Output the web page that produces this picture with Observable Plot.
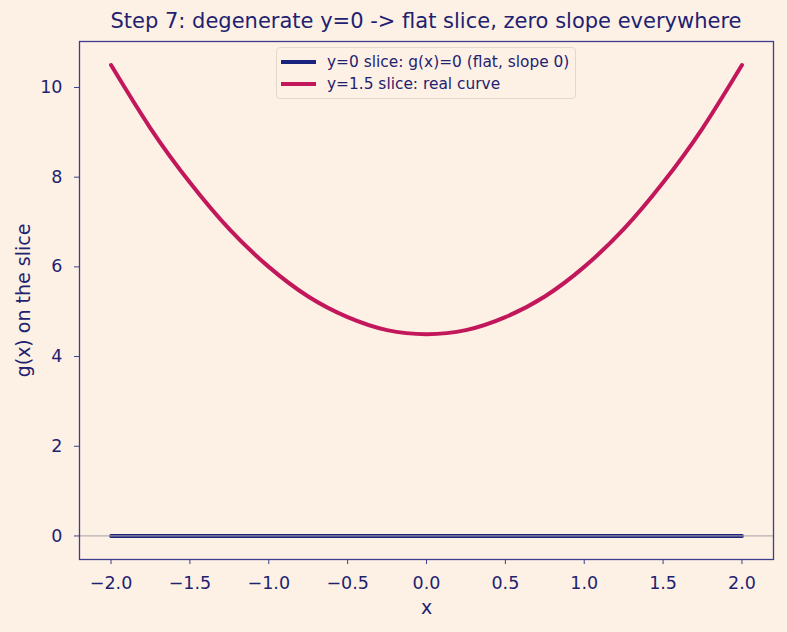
<!DOCTYPE html>
<html>
<head>
<meta charset="utf-8">
<script src="https://cdn.jsdelivr.net/npm/d3@7"></script>
<script src="https://cdn.jsdelivr.net/npm/@observablehq/plot@0.6"></script>
<style>
  html, body { margin: 0; padding: 0; background: #fdf1e6; }
  body { width: 787px; height: 632px; position: relative; font-family: "DejaVu Sans", sans-serif; overflow: hidden; }
  #title { position: absolute; left: 0; top: 0; width: 787px; height: 30px; }
  #title span { position: absolute; left: 426px; top: 8px; transform: translateX(-50%); white-space: nowrap; font-size: 21px; line-height: 26px; color: #1f2270; }
  #chart { position: absolute; left: 0; top: 30px; }
  #legend { position: absolute; left: 276px; top: 47px; width: 300px; height: 52px; border: 1px solid #e4d8cd; border-radius: 4px; background: rgba(253,241,230,0.8); box-sizing: border-box; }
  .row { position: absolute; left: 4px; height: 20px; font-size: 15.4px; line-height: 20px; color: #1f2270; white-space: nowrap; }
  .row i { position: absolute; left: 0; top: 8px; width: 35px; height: 4px; }
  .row span { position: absolute; left: 46px; top: 0; }
</style>
</head>
<body>
<div id="title"><span>Step 7: degenerate y=0 -&gt; flat slice, zero slope everywhere</span></div>
<div id="chart"></div>
<div id="legend">
  <div class="row" style="top:4px"><i style="background:#1a237e"></i><span>y=0 slice: g(x)=0 (flat, slope 0)</span></div>
  <div class="row" style="top:26px"><i style="background:#c2185b"></i><span>y=1.5 slice: real curve</span></div>
</div>
<script>
// x positions
const xs = [-2.0, -1.75, -1.5, -1.25, -1.0, -0.75, -0.5, -0.25, 0.0, 0.25, 0.5, 0.75, 1.0, 1.25, 1.5, 1.75, 2.0];
// y=1.5 slice: real curve
const curveVals = [10.5, 9.09, 7.88, 6.84, 6.0, 5.34, 4.88, 4.59, 4.5, 4.59, 4.88, 5.34, 6.0, 6.84, 7.88, 9.09, 10.5];
// y=0 slice: flat
const flatXs = [-2.0, 2.0];
const flatVals = [0, 0];
const xTicks = [-2.0, -1.5, -1.0, -0.5, 0.0, 0.5, 1.0, 1.5, 2.0];
const yTicks = [0, 2, 4, 6, 8, 10];

const curveData = xs.map((x, i) => ({x, y: curveVals[i]}));
const flatData = flatXs.map((x, i) => ({x, y: flatVals[i]}));

const ink = "#1f2270";
const frameColor = "#3d3d8f";

const chart = Plot.plot({
  width: 787,
  height: 602,
  marginLeft: 79,
  marginRight: 14,
  marginTop: 11,
  marginBottom: 73,
  style: {background: "transparent", fontFamily: "DejaVu Sans, sans-serif", fontSize: "17.5px", color: ink},
  x: {domain: [-2.2, 2.2]},
  y: {domain: [-0.525, 11.025]},
  marks: [
    Plot.lineY(flatData, {x: "x", y: "y", stroke: "#1a237e", strokeWidth: 4}),
    Plot.ruleY([0], {stroke: "#a9a3a6", strokeWidth: 1.2, strokeOpacity: 0.85}),
    Plot.lineY(curveData, {x: "x", y: "y", stroke: "#c2185b", strokeWidth: 4, curve: "natural"}),
    Plot.frame({stroke: frameColor, strokeWidth: 1.3}),
    Plot.axisX({ticks: xTicks, tickFormat: d3.format(".1f"), tickSize: 5, tickPadding: 12, fontSize: 17.5, stroke: frameColor, fill: ink,
      label: null}),
    Plot.axisY({ticks: yTicks, tickFormat: d3.format("d"), tickSize: 5, tickPadding: 12, fontSize: 17.5, stroke: frameColor, fill: ink,
      label: null}),
    Plot.text(["x"], {frameAnchor: "bottom", dy: 48, fontSize: 19, fill: ink, lineAnchor: "middle"}),
    Plot.text(["g(x) on the slice"], {frameAnchor: "left", dx: -56, rotate: -90, fontSize: 19, fill: ink, lineAnchor: "middle", textAnchor: "middle"})
  ]
});
document.getElementById("chart").appendChild(chart);
</script>
</body>
</html>
